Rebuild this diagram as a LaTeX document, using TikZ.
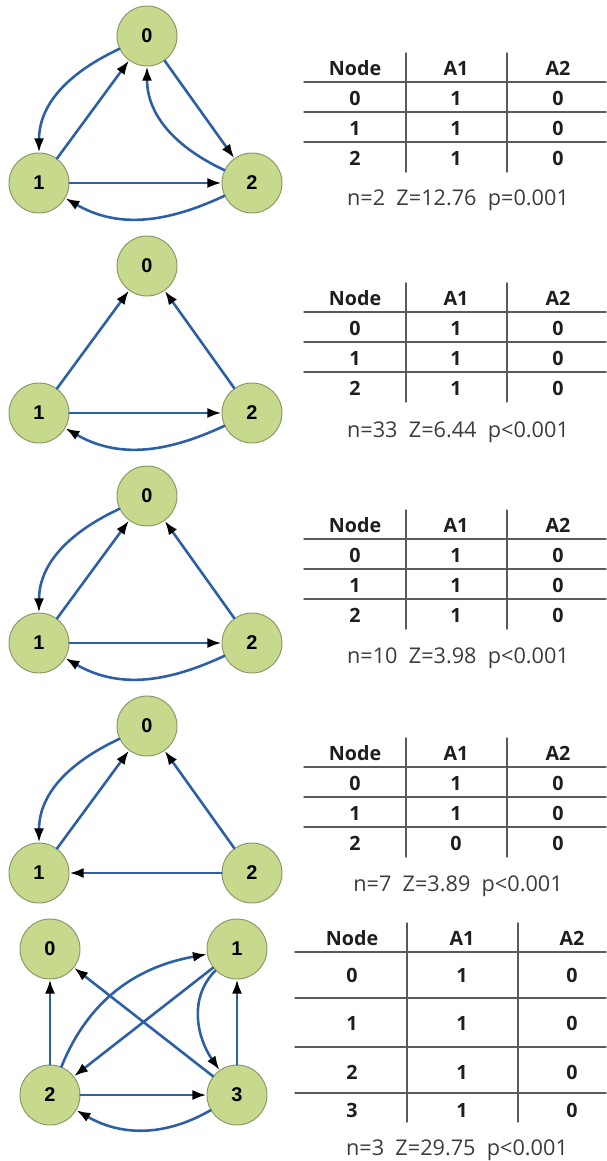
\documentclass[tikz,border=0pt]{standalone}
\usepackage{fontspec}
\setmainfont{Open Sans}
\newfontfamily\labelfont{Liberation Sans}
\usetikzlibrary{arrows.meta}
\definecolor{vertexfill}{RGB}{198,217,140}
\definecolor{vertexrim}{RGB}{135,150,100}
\definecolor{edgeblue}{RGB}{44,95,165}
\definecolor{rulegray}{RGB}{90,90,90}
\definecolor{inktext}{RGB}{30,30,30}
\definecolor{stattext}{RGB}{60,60,60}
\tikzset{
  vertex/.style={circle, draw=vertexrim, fill=vertexfill, line width=0.8pt, minimum size=1.8cm, inner sep=0pt, font=\labelfont\bfseries\fontsize{17}{20}\selectfont},
  link/.style={draw=edgeblue, line width=2.2pt, -{Latex[length=12pt,width=8.5pt,color=black]}},
  hdr/.style={text=inktext, font=\bfseries\fontsize{16.8}{20}\selectfont},
  stat/.style={text=stattext, font=\fontsize{18.5}{22}\selectfont},
  rule/.style={draw=rulegray, line width=1.2pt}
}
\begin{document}
\begin{tikzpicture}[x=0.03cm, y=0.03cm, line cap=round]
    \useasboundingbox (0,-1161) rectangle (606,0);
    % the four triangle panels
    \foreach \p/\dy in {a/0,b/230,c/460,d/690}{
        \node[vertex] (\p0) at (147,-36-\dy) {0};
        \node[vertex] (\p1) at (39,-183-\dy) {1};
        \node[vertex] (\p2) at (252,-183-\dy) {2};
    }
    % panel 1
    \draw[link] (a0) to[out=205,in=90] (a1);
    \draw[link] (a1) -- (a0);
    \draw[link] (a0) -- (a2);
    \draw[link] (a2) to[out=155,in=270] (a0);
    \draw[link] (a1) -- (a2);
    \draw[link] (a2) to[out=205,in=-30] (a1);
    % panel 2
    \draw[link] (b1) -- (b0);
    \draw[link] (b2) -- (b0);
    \draw[link] (b1) -- (b2);
    \draw[link] (b2) to[out=205,in=-30] (b1);
    % panel 3
    \draw[link] (c0) to[out=205,in=90] (c1);
    \draw[link] (c1) -- (c0);
    \draw[link] (c2) -- (c0);
    \draw[link] (c1) -- (c2);
    \draw[link] (c2) to[out=205,in=-30] (c1);
    % panel 4
    \draw[link] (d0) to[out=205,in=90] (d1);
    \draw[link] (d1) -- (d0);
    \draw[link] (d2) -- (d0);
    \draw[link] (d2) -- (d1);
    % panel 5, four nodes
    \foreach \n/\x/\y in {0/50/949,1/237/949,2/50/1095,3/237/1095}
        \node[vertex] (e\n) at (\x,-\y) {\n};
    \draw[link] (e2) -- (e0);
    \draw[link] (e3) -- (e1);
    \draw[link] (e3) -- (e0);
    \draw[link] (e1) -- (e2);
    \draw[link] (e2) to[out=68,in=190] (e1);
    \draw[link] (e1) to[out=225,in=125] (e3);
    \draw[link] (e2) -- (e3);
    \draw[link] (e3) to[out=210,in=-30] (e2);
    % tables of panels 1-4
    \foreach \t/\hy/\rowtwo in {ta/68/1,tb/298/1,tc/525/1,td/753/0}{
        \node[hdr] (\t-node) at (355,-\hy) {Node};
        \node[hdr] (\t-a1) at (456,-\hy) {A1};
        \node[hdr] (\t-a2) at (558,-\hy) {A2};
        \foreach \r/\v in {0/1,1/1,2/\rowtwo}{
            \node[hdr] (\t-n\r) at (355,-\hy-30-30*\r) {\r};
            \node[hdr] (\t-u\r) at (456,-\hy-30-30*\r) {\v};
            \node[hdr] (\t-w\r) at (558,-\hy-30-30*\r) {0};
        }
        \foreach \k in {14,44,74}
            \draw[rule] (304,-\hy-\k) -- (606,-\hy-\k);
        \foreach \x in {406,507}
            \draw[rule] (\x,-\hy+15) -- (\x,-\hy-104);
    }
    \node[stat] (ta-stat) at (458,-200) {n=2~~Z=12.76~~p=0.001};
    \node[stat] (tb-stat) at (458,-432) {n=33~~Z=6.44~~p<0.001};
    \node[stat] (tc-stat) at (458,-658) {n=10~~Z=3.98~~p<0.001};
    \node[stat] (td-stat) at (458,-886) {n=7~~Z=3.89~~p<0.001};
    % table of panel 5
    \node[hdr] (te-node) at (352,-938) {Node};
    \node[hdr] (te-a1) at (462,-938) {A1};
    \node[hdr] (te-a2) at (572,-938) {A2};
    \foreach \r/\y in {0/975,1/1023,2/1072,3/1110}{
        \node[hdr] (te-n\r) at (352,-\y) {\r};
        \node[hdr] (te-u\r) at (462,-\y) {1};
        \node[hdr] (te-w\r) at (572,-\y) {0};
    }
    \foreach \y in {952,998,1047,1093}
        \draw[rule] (295,-\y) -- (606,-\y);
    \foreach \x in {407,518}
        \draw[rule] (\x,-923) -- (\x,-1122);
    \node[stat] (te-stat) at (457,-1150) {n=3~~Z=29.75~~p<0.001};
\end{tikzpicture}
\end{document}
